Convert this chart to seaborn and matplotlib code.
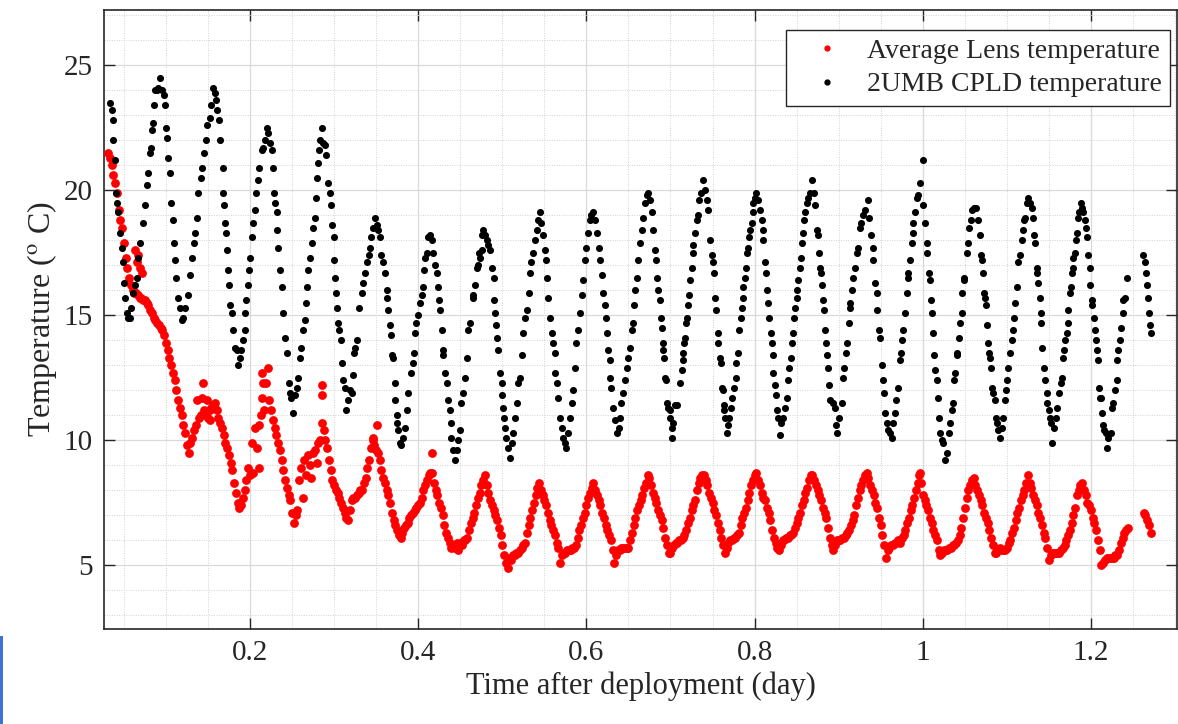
import matplotlib.pyplot as plt
from matplotlib.lines import Line2D
from matplotlib.patches import Rectangle
from matplotlib.ticker import MultipleLocator, FixedLocator
import pandas as pd
import seaborn as sns

sns.set_theme(style="ticks")
plt.rcParams['font.family'] = ['Liberation Serif', 'DejaVu Serif']
plt.rcParams['mathtext.fontset'] = 'stix'

LENS = 'Average Lens temperature'
CPLD = '2UMB CPLD temperature'

# (minutes after deployment, temperature in deg C)
lens_readings = [
    (45, 21.5), (48, 21.3), (51, 21.0), (54, 20.6), (57, 20.3), (60, 19.9), (63, 19.2), (66, 18.8), (69, 18.5), (72, 17.9),
    (75, 17.3), (78, 16.9), (81, 16.5), (84, 16.2), (87, 16.0), (90, 15.9), (93, 15.9), (96, 15.8), (99, 15.7), (102, 15.7),
    (105, 15.6), (108, 15.6), (111, 15.5), (114, 15.4), (117, 15.2), (120, 15.1), (123, 14.9), (126, 14.8), (129, 14.7), (132, 14.6),
    (135, 14.5), (138, 14.4), (141, 14.2), (144, 13.9), (147, 13.6), (150, 13.3), (153, 13.0), (156, 12.7), (159, 12.4), (162, 12.0),
    (165, 11.6), (168, 11.3), (171, 11.0), (174, 10.6), (177, 10.3), (180, 9.8), (183, 9.5), (186, 9.9), (189, 10.1), (192, 10.4),
    (195, 10.6), (198, 11.6), (201, 10.9), (204, 11.0), (207, 12.3), (210, 11.2), (213, 11.0), (216, 10.9), (219, 11.2), (222, 11.3),
    (225, 11.4), (228, 11.5), (231, 11.2), (234, 10.9), (237, 10.7), (240, 10.5), (243, 10.2), (246, 9.9), (249, 9.7), (252, 9.4),
    (255, 9.1), (258, 8.8), (261, 8.3), (264, 7.9), (267, 7.5), (270, 7.3), (273, 7.4), (276, 7.7), (279, 8.0), (282, 8.4),
    (285, 8.9), (288, 8.6), (291, 9.9), (294, 8.7), (297, 10.5), (300, 9.7), (303, 10.6), (306, 11.0), (309, 11.7), (312, 11.2),
    (315, 12.3), (318, 12.9), (321, 11.6), (324, 11.2), (327, 10.8), (330, 10.5), (333, 10.2), (336, 9.9), (339, 9.6), (342, 9.2),
    (345, 8.8), (348, 8.4), (351, 8.1), (354, 7.8), (357, 7.6), (360, 7.1), (363, 6.7), (366, 7.0), (369, 7.2), (372, 8.4),
    (375, 8.9), (378, 7.7), (381, 9.2), (384, 8.6), (387, 9.4), (390, 9.0), (393, 8.5), (396, 9.5), (399, 9.6), (402, 9.1),
    (405, 9.9), (408, 10.0), (411, 10.7), (414, 10.4), (417, 10.0), (420, 9.7), (423, 9.2), (426, 8.8), (429, 8.4), (432, 8.2),
    (435, 8.0), (438, 7.9), (441, 7.7), (444, 7.5), (447, 7.3), (450, 7.1), (453, 6.9), (456, 6.8), (459, 7.2), (462, 7.6),
    (465, 7.7), (468, 7.7), (471, 7.8), (474, 7.9), (477, 8.0), (480, 8.0), (483, 8.3), (486, 8.5), (489, 8.9), (492, 9.2),
    (495, 9.7), (498, 10.1), (501, 9.8), (504, 9.6), (507, 9.5), (510, 9.2), (513, 8.8), (516, 8.5), (519, 8.3), (522, 8.0),
    (525, 7.8), (528, 7.5), (531, 7.1), (534, 6.8), (537, 6.6), (540, 6.4), (543, 6.2), (546, 6.1), (549, 6.3), (552, 6.5),
    (555, 6.6), (558, 6.7), (561, 6.9), (564, 7.0), (567, 7.1), (570, 7.2), (573, 7.3), (576, 7.4), (579, 7.5), (582, 7.7),
    (585, 8.0), (588, 8.2), (591, 8.4), (594, 8.6), (597, 8.7), (600, 8.7), (603, 8.3), (606, 8.0), (609, 7.8), (612, 7.5),
    (615, 7.3), (618, 7.0), (621, 6.6), (624, 6.3), (627, 6.1), (630, 5.9), (633, 5.7), (636, 5.8), (639, 5.7), (642, 5.9),
    (645, 5.6), (648, 5.9), (651, 5.8), (654, 6.0), (657, 6.0), (660, 6.1), (663, 6.4), (666, 6.7), (669, 6.9), (672, 7.1),
    (675, 7.4), (678, 7.7), (681, 7.9), (684, 8.2), (687, 8.4), (690, 8.6), (693, 8.2), (696, 7.9), (699, 7.6), (702, 7.4),
    (705, 7.2), (708, 7.0), (711, 6.8), (714, 6.5), (717, 6.2), (720, 5.8), (723, 5.4), (726, 5.1), (729, 4.9), (732, 5.3),
    (735, 5.2), (738, 5.4), (741, 5.4), (744, 5.5), (747, 5.5), (750, 5.6), (753, 5.7), (756, 5.8), (759, 5.9), (762, 6.3),
    (765, 6.6), (768, 6.9), (771, 7.2), (774, 7.5), (777, 7.8), (780, 8.1), (783, 8.3), (786, 8.0), (789, 7.8), (792, 7.6),
    (795, 7.4), (798, 7.1), (801, 6.8), (804, 6.6), (807, 6.4), (810, 6.2), (813, 5.9), (816, 5.7), (819, 5.1), (822, 5.4),
    (825, 5.5), (828, 5.5), (831, 5.6), (834, 5.6), (837, 5.6), (840, 5.7), (843, 5.7), (846, 5.8), (849, 6.1), (852, 6.4),
    (855, 6.6), (858, 6.9), (861, 7.1), (864, 7.4), (867, 7.7), (870, 7.9), (873, 8.1), (876, 8.3), (879, 8.0), (882, 7.8),
    (885, 7.6), (888, 7.4), (891, 7.1), (894, 6.9), (897, 6.6), (900, 6.4), (903, 6.2), (906, 6.0), (909, 5.6), (912, 5.1),
    (915, 5.4), (918, 5.6), (921, 5.6), (924, 5.7), (927, 5.7), (930, 5.7), (933, 5.7), (936, 5.7), (939, 6.0), (942, 6.3),
    (945, 6.6), (948, 6.9), (951, 7.2), (954, 7.4), (957, 7.6), (960, 7.8), (963, 8.1), (966, 8.3), (969, 8.6), (972, 8.5),
    (975, 8.2), (978, 7.9), (981, 7.7), (984, 7.5), (987, 7.2), (990, 7.0), (993, 6.8), (996, 6.5), (999, 6.1), (1002, 5.8),
    (1005, 5.5), (1008, 5.5), (1011, 5.7), (1014, 5.8), (1017, 5.9), (1020, 5.9), (1023, 6.0), (1026, 6.0), (1029, 6.1), (1032, 6.2),
    (1035, 6.4), (1038, 6.7), (1041, 6.9), (1044, 7.2), (1047, 7.4), (1050, 7.6), (1053, 8.0), (1056, 8.3), (1059, 8.5), (1062, 8.6),
    (1065, 8.6), (1068, 8.4), (1071, 8.2), (1074, 7.9), (1077, 7.7), (1080, 7.5), (1083, 7.2), (1086, 7.0), (1089, 6.7), (1092, 6.4),
    (1095, 6.1), (1098, 5.8), (1101, 5.5), (1104, 5.7), (1107, 5.9), (1110, 6.0), (1113, 6.0), (1116, 6.1), (1119, 6.1), (1122, 6.2),
    (1125, 6.3), (1128, 6.6), (1131, 6.9), (1134, 7.1), (1137, 7.3), (1140, 7.6), (1143, 7.9), (1146, 8.2), (1149, 8.4), (1152, 8.6),
    (1155, 8.7), (1158, 8.4), (1161, 8.2), (1164, 7.9), (1167, 7.7), (1170, 7.6), (1173, 7.3), (1176, 7.1), (1179, 6.8), (1182, 6.4),
    (1185, 6.1), (1188, 5.9), (1191, 5.7), (1194, 5.6), (1197, 5.8), (1200, 6.0), (1203, 6.0), (1206, 6.1), (1209, 6.1), (1212, 6.2),
    (1215, 6.2), (1218, 6.3), (1221, 6.5), (1224, 6.7), (1227, 6.9), (1230, 7.1), (1233, 7.4), (1236, 7.6), (1239, 7.9), (1242, 8.1),
    (1245, 8.4), (1248, 8.6), (1251, 8.6), (1254, 8.4), (1257, 8.2), (1260, 8.0), (1263, 7.8), (1266, 7.6), (1269, 7.3), (1272, 7.1),
    (1275, 6.9), (1278, 6.5), (1281, 6.1), (1284, 5.8), (1287, 5.6), (1290, 5.8), (1293, 6.0), (1296, 6.0), (1299, 6.0), (1302, 6.1),
    (1305, 6.1), (1308, 6.2), (1311, 6.3), (1314, 6.4), (1317, 6.6), (1320, 6.8), (1323, 7.0), (1326, 7.4), (1329, 7.7), (1332, 8.0),
    (1335, 8.2), (1338, 8.4), (1341, 8.6), (1344, 8.7), (1347, 8.5), (1350, 8.2), (1353, 8.0), (1356, 7.8), (1359, 7.5), (1362, 7.3),
    (1365, 6.9), (1368, 6.6), (1371, 6.2), (1374, 5.8), (1377, 5.3), (1380, 5.6), (1383, 5.7), (1386, 5.8), (1389, 5.8), (1392, 5.9),
    (1395, 5.9), (1398, 6.0), (1401, 5.9), (1404, 6.1), (1407, 6.2), (1410, 6.4), (1413, 6.7), (1416, 6.9), (1419, 7.2), (1422, 7.4),
    (1425, 7.7), (1428, 8.0), (1431, 8.3), (1434, 8.6), (1437, 8.3), (1440, 7.8), (1443, 7.6), (1446, 7.4), (1449, 7.2), (1452, 6.9),
    (1455, 6.7), (1458, 6.4), (1461, 6.2), (1464, 6.0), (1467, 5.6), (1470, 5.4), (1473, 5.5), (1476, 5.6), (1479, 5.6), (1482, 5.6),
    (1485, 5.7), (1488, 5.7), (1491, 5.8), (1494, 5.8), (1497, 5.9), (1500, 6.0), (1503, 6.2), (1506, 6.5), (1509, 6.9), (1512, 7.3),
    (1515, 7.7), (1518, 8.0), (1521, 8.2), (1524, 8.4), (1527, 8.5), (1530, 8.2), (1533, 8.0), (1536, 7.8), (1539, 7.6), (1542, 7.4),
    (1545, 7.1), (1548, 6.9), (1551, 6.7), (1554, 6.4), (1557, 6.1), (1560, 5.8), (1563, 5.5), (1566, 5.5), (1569, 5.6), (1572, 5.7),
    (1575, 5.6), (1578, 5.6), (1581, 5.6), (1584, 5.7), (1587, 5.9), (1590, 6.0), (1593, 6.3), (1596, 6.5), (1599, 6.8), (1602, 7.1),
    (1605, 7.3), (1608, 7.6), (1611, 7.8), (1614, 8.0), (1617, 8.3), (1620, 8.6), (1623, 8.3), (1626, 8.1), (1629, 7.8), (1632, 7.6),
    (1635, 7.4), (1638, 7.1), (1641, 6.9), (1644, 6.6), (1647, 6.3), (1650, 6.1), (1653, 5.7), (1656, 5.2), (1659, 5.4), (1662, 5.5),
    (1665, 5.5), (1668, 5.5), (1671, 5.5), (1674, 5.5), (1677, 5.6), (1680, 5.7), (1683, 5.8), (1686, 6.0), (1689, 6.2), (1692, 6.4),
    (1695, 6.7), (1698, 7.0), (1701, 7.3), (1704, 7.8), (1707, 8.0), (1710, 8.2), (1713, 8.3), (1716, 8.0), (1719, 7.8), (1722, 7.5),
    (1725, 7.4), (1728, 7.2), (1731, 6.9), (1734, 6.7), (1737, 6.4), (1740, 6.0), (1743, 5.6), (1746, 5.0), (1749, 5.1), (1752, 5.2),
    (1755, 5.3), (1758, 5.3), (1761, 5.3), (1764, 5.3), (1767, 5.3), (1770, 5.4), (1773, 5.4), (1776, 5.6), (1779, 5.9), (1782, 6.1),
    (1785, 6.3), (1788, 6.4), (1791, 6.5), (1818, 7.1), (1821, 7.0), (1824, 6.8), (1827, 6.6), (1830, 6.3),
]

# stray lens dots above the main trace
lens_scatter = [
    (91, 17.6), (94, 17.1), (97, 17.4), (100, 16.9), (103, 16.7), (205, 11.7), (214, 11.6), (220, 10.8),
    (303, 8.9), (309, 12.7), (310, 12.3), (411, 12.2), (412, 11.8), (498, 10.0), (505, 10.6), (599, 9.5), (1436, 8.7),
]

cpld_readings = [
    (48, 23.5), (51, 23.2), (53, 22.8), (54, 22.0), (57, 21.2), (59, 19.9), (61, 19.5), (62, 19.1), (65, 18.3), (68, 17.7),
    (71, 17.1), (72, 16.3), (74, 15.7), (77, 15.1), (79, 14.9), (83, 14.9), (85, 15.3), (88, 15.9), (91, 16.2), (94, 16.5),
    (97, 17.3), (100, 17.9), (104, 18.7), (108, 19.4), (111, 20.2), (114, 20.7), (117, 21.5), (119, 21.7), (121, 22.4), (122, 22.7),
    (124, 23.4), (125, 24.0), (128, 24.0), (131, 24.1), (134, 24.5), (137, 24.0), (140, 23.8), (142, 23.4), (144, 22.5), (146, 22.1),
    (148, 21.3), (151, 20.7), (153, 19.5), (156, 18.8), (158, 17.9), (160, 17.2), (162, 16.5), (165, 15.7), (168, 15.3), (171, 14.8),
    (174, 14.9), (177, 15.3), (181, 15.8), (185, 16.6), (188, 17.3), (192, 17.9), (194, 18.3), (197, 18.9), (199, 19.9), (204, 20.5),
    (205, 20.9), (209, 21.5), (213, 22.0), (215, 22.6), (219, 22.9), (221, 23.4), (224, 24.1), (228, 23.9), (230, 23.6), (232, 23.2),
    (235, 22.8), (237, 22.0), (241, 20.9), (242, 19.9), (244, 19.4), (245, 18.7), (247, 18.3), (248, 17.6), (251, 16.8), (252, 16.2),
    (254, 15.4), (257, 15.1), (259, 14.4), (262, 13.7), (265, 13.6), (268, 13.0), (271, 13.3), (273, 13.6), (276, 14.0), (279, 14.4),
    (280, 15.1), (282, 15.6), (285, 16.2), (286, 16.8), (288, 17.3), (291, 18.1), (294, 18.7), (297, 19.2), (299, 19.9), (302, 20.4),
    (304, 20.9), (308, 21.6), (311, 21.7), (314, 22.0), (317, 22.5), (319, 22.3), (322, 21.9), (325, 21.6), (328, 20.9), (329, 19.9),
    (331, 19.5), (334, 19.1), (335, 18.4), (336, 17.7), (339, 16.8), (342, 16.1), (345, 15.1), (348, 14.1), (351, 13.5), (354, 12.3),
    (356, 11.9), (359, 11.7), (362, 11.1), (365, 11.8), (368, 12.1), (371, 12.5), (374, 13.3), (376, 13.7), (379, 14.4), (382, 14.8),
    (384, 15.5), (386, 16.1), (388, 16.8), (391, 17.3), (394, 17.9), (396, 18.5), (399, 18.9), (401, 19.7), (402, 20.5), (405, 21.1),
    (407, 21.6), (408, 22.0), (411, 22.5), (413, 21.9), (416, 21.8), (419, 21.4), (422, 20.3), (425, 19.9), (426, 19.4), (428, 18.6),
    (431, 18.1), (432, 17.2), (434, 16.5), (435, 15.9), (437, 15.3), (439, 14.7), (441, 14.4), (443, 14.0), (445, 13.1), (448, 12.4),
    (451, 12.1), (453, 11.2), (456, 11.6), (459, 12.0), (462, 11.9), (465, 12.6), (466, 13.5), (468, 13.7), (472, 14.0), (475, 15.3),
    (479, 15.9), (482, 16.3), (485, 16.7), (489, 17.1), (491, 17.4), (493, 17.7), (496, 18.1), (499, 18.5), (502, 18.9), (505, 18.6),
    (508, 18.4), (511, 18.1), (513, 17.4), (516, 17.1), (519, 16.7), (522, 16.0), (523, 15.7), (524, 15.2), (528, 14.6), (529, 14.2),
    (531, 13.4), (533, 13.3), (536, 12.3), (537, 11.6), (539, 11.0), (540, 10.7), (542, 10.4), (545, 9.9), (547, 9.8), (550, 10.1),
    (553, 10.5), (556, 11.2), (559, 11.9), (563, 12.7), (567, 13.1), (568, 13.5), (571, 14.3), (573, 14.7), (576, 15.0), (579, 15.5),
    (582, 15.8), (585, 16.1), (586, 16.8), (588, 17.3), (591, 17.5), (593, 18.1), (596, 18.2), (599, 18.0), (602, 17.5), (605, 17.0),
    (608, 16.7), (610, 16.1), (612, 15.6), (614, 15.2), (616, 14.4), (618, 13.6), (619, 13.4), (622, 12.7), (625, 12.3), (627, 11.6),
    (630, 11.2), (632, 10.7), (633, 10.1), (636, 9.6), (639, 9.2), (642, 9.6), (645, 10.0), (648, 10.4), (650, 11.5), (653, 11.9),
    (656, 12.5), (659, 13.3), (662, 14.4), (665, 14.7), (669, 15.8), (670, 15.7), (673, 16.2), (676, 16.9), (679, 17.0), (680, 17.5),
    (682, 17.3), (685, 17.6), (686, 18.2), (687, 18.4), (690, 18.2), (693, 18.0), (696, 17.8), (699, 17.6), (702, 16.9), (705, 16.5),
    (706, 15.6), (707, 15.1), (710, 14.6), (711, 14.1), (713, 13.6), (716, 12.7), (719, 12.3), (720, 11.8), (722, 11.3), (723, 10.9),
    (725, 10.5), (727, 10.1), (730, 9.7), (733, 9.3), (736, 9.9), (739, 10.3), (742, 10.9), (745, 11.5), (747, 12.3), (750, 12.5),
    (753, 13.4), (756, 14.3), (759, 14.9), (762, 15.2), (765, 15.9), (767, 16.7), (770, 17.1), (773, 17.5), (776, 18.0), (779, 18.4),
    (782, 18.8), (785, 19.1), (787, 18.7), (790, 18.2), (793, 17.6), (795, 17.2), (796, 16.5), (799, 15.7), (802, 14.9), (805, 14.3),
    (807, 13.9), (810, 13.5), (811, 12.7), (813, 12.3), (816, 11.7), (819, 10.9), (822, 10.5), (824, 10.1), (827, 9.9), (829, 9.7),
    (833, 10.3), (836, 10.9), (839, 11.5), (841, 12.0), (844, 12.9), (847, 13.9), (850, 14.4), (853, 15.1), (856, 15.8), (859, 16.4),
    (862, 17.2), (864, 17.7), (867, 18.3), (870, 18.8), (872, 19.0), (875, 19.1), (879, 18.8), (882, 18.3), (885, 17.7), (887, 17.2),
    (890, 16.6), (893, 15.9), (896, 15.4), (898, 14.9), (899, 14.3), (901, 13.6), (904, 13.2), (905, 12.5), (907, 12.1), (910, 11.3),
    (913, 10.8), (916, 10.3), (919, 10.5), (922, 10.9), (924, 11.5), (927, 11.9), (930, 12.4), (933, 12.9), (936, 13.3), (939, 13.7),
    (942, 14.4), (944, 14.7), (945, 15.4), (947, 16.0), (950, 16.5), (953, 17.2), (956, 17.9), (959, 18.4), (961, 18.9), (964, 19.5),
    (967, 19.8), (970, 19.9), (973, 19.6), (976, 19.1), (978, 18.4), (981, 17.6), (984, 17.2), (985, 16.5), (987, 16.0), (990, 15.6),
    (992, 14.9), (993, 14.5), (995, 13.9), (996, 13.6), (997, 13.3), (999, 12.5), (1000, 12.4), (1002, 11.5), (1004, 11.3), (1007, 11.2),
    (1008, 10.9), (1010, 10.5), (1011, 10.1), (1012, 10.7), (1015, 11.4), (1019, 11.4), (1024, 12.3), (1027, 12.8), (1029, 13.2), (1030, 13.5),
    (1031, 13.9), (1033, 14.1), (1035, 14.7), (1036, 14.9), (1038, 15.4), (1040, 15.8), (1042, 16.4), (1044, 16.9), (1046, 17.5), (1047, 17.8),
    (1050, 18.3), (1053, 18.8), (1055, 19.0), (1057, 19.6), (1060, 19.9), (1064, 20.4), (1067, 20.0), (1070, 19.6), (1073, 19.2), (1076, 18.0),
    (1079, 17.4), (1081, 17.1), (1082, 16.7), (1084, 15.7), (1086, 15.2), (1089, 14.3), (1090, 13.9), (1093, 13.3), (1094, 13.1), (1097, 12.1),
    (1098, 12.0), (1099, 11.4), (1100, 11.2), (1102, 10.9), (1104, 10.3), (1106, 10.6), (1109, 10.9), (1112, 11.3), (1114, 11.7), (1117, 12.1),
    (1120, 12.5), (1121, 13.1), (1124, 13.5), (1126, 14.4), (1129, 14.9), (1131, 15.3), (1132, 15.7), (1133, 16.1), (1136, 16.5), (1138, 16.9),
    (1139, 17.5), (1141, 17.7), (1143, 18.1), (1145, 18.4), (1147, 18.7), (1149, 19.1), (1150, 19.5), (1153, 19.7), (1155, 19.9), (1158, 19.6),
    (1161, 19.2), (1165, 18.8), (1166, 18.4), (1167, 18.0), (1170, 17.1), (1172, 16.7), (1173, 16.0), (1175, 15.5), (1177, 14.9), (1180, 14.3),
    (1182, 13.9), (1183, 13.4), (1184, 12.7), (1187, 12.2), (1189, 11.8), (1190, 11.2), (1192, 10.9), (1195, 10.2), (1198, 10.7), (1201, 10.9),
    (1204, 11.3), (1207, 11.7), (1209, 12.4), (1211, 12.9), (1214, 13.3), (1216, 13.9), (1218, 14.3), (1220, 14.9), (1221, 15.3), (1224, 15.7),
    (1225, 16.0), (1227, 16.4), (1230, 16.9), (1231, 17.3), (1233, 17.9), (1235, 18.3), (1237, 18.8), (1239, 19.1), (1242, 19.5), (1244, 19.7),
    (1247, 19.9), (1250, 20.4), (1253, 19.9), (1256, 19.4), (1259, 18.4), (1260, 18.2), (1262, 17.5), (1264, 16.9), (1265, 16.7), (1267, 16.2),
    (1269, 15.6), (1271, 15.2), (1273, 14.4), (1274, 13.9), (1276, 13.4), (1278, 12.9), (1280, 12.2), (1282, 11.6), (1286, 11.5), (1289, 11.3),
    (1292, 10.6), (1293, 10.3), (1297, 10.9), (1301, 11.5), (1303, 12.5), (1305, 12.9), (1309, 13.5), (1310, 13.9), (1313, 14.7), (1315, 15.3),
    (1316, 15.5), (1318, 16.0), (1321, 16.5), (1324, 16.9), (1327, 17.5), (1329, 17.7), (1332, 18.5), (1335, 18.7), (1337, 19.0), (1341, 19.2),
    (1346, 19.6), (1348, 18.9), (1351, 18.2), (1354, 17.7), (1355, 17.2), (1358, 16.3), (1361, 15.9), (1362, 15.2), (1365, 14.4), (1367, 14.1),
    (1370, 13.0), (1372, 12.4), (1374, 11.9), (1375, 11.1), (1379, 10.7), (1381, 10.4), (1384, 10.3), (1387, 10.1), (1389, 10.7), (1392, 11.1),
    (1395, 11.6), (1397, 12.1), (1401, 13.2), (1402, 13.5), (1404, 14.0), (1406, 14.4), (1409, 15.1), (1413, 15.9), (1414, 16.5), (1415, 16.7),
    (1418, 17.2), (1421, 17.9), (1423, 18.3), (1424, 18.7), (1426, 19.1), (1430, 19.7), (1432, 19.8), (1436, 20.3), (1440, 21.2), (1441, 19.4),
    (1444, 18.7), (1447, 17.9), (1448, 17.5), (1451, 16.7), (1452, 16.4), (1454, 15.6), (1456, 15.1), (1457, 14.3), (1459, 13.4), (1461, 12.8),
    (1464, 12.4), (1466, 11.7), (1468, 10.9), (1469, 10.3), (1473, 10.0), (1475, 9.9), (1478, 9.2), (1481, 9.5), (1485, 10.3), (1487, 10.7),
    (1490, 11.2), (1491, 11.5), (1493, 12.4), (1496, 12.7), (1498, 13.4), (1499, 13.5), (1502, 14.1), (1504, 14.7), (1507, 15.1), (1508, 15.9),
    (1510, 16.4), (1511, 16.5), (1515, 17.5), (1517, 17.9), (1519, 18.5), (1522, 18.8), (1524, 19.2), (1528, 19.3), (1531, 19.3), (1534, 18.8),
    (1538, 18.2), (1539, 17.4), (1541, 17.2), (1543, 16.7), (1545, 15.9), (1546, 15.7), (1548, 15.4), (1550, 14.6), (1552, 13.9), (1554, 13.5),
    (1555, 13.3), (1557, 12.9), (1558, 12.1), (1560, 11.9), (1564, 11.6), (1565, 10.9), (1567, 10.7), (1569, 10.4), (1572, 10.1), (1575, 10.5),
    (1577, 10.9), (1581, 11.6), (1582, 12.0), (1584, 12.4), (1586, 12.9), (1589, 13.5), (1593, 14.0), (1594, 14.4), (1596, 14.9), (1598, 15.5),
    (1601, 16.1), (1603, 17.1), (1607, 17.4), (1610, 18.0), (1612, 18.4), (1613, 18.8), (1615, 18.9), (1618, 19.5), (1620, 19.7), (1623, 19.5),
    (1627, 19.3), (1628, 18.9), (1630, 18.2), (1633, 17.9), (1635, 16.9), (1636, 16.7), (1637, 16.3), (1640, 15.7), (1642, 15.1), (1643, 14.7),
    (1645, 13.7), (1647, 12.9), (1649, 12.4), (1652, 11.9), (1653, 11.5), (1656, 11.2), (1657, 10.9), (1660, 10.7), (1661, 9.9), (1665, 10.5),
    (1668, 10.9), (1670, 11.3), (1674, 11.9), (1677, 12.3), (1679, 12.5), (1680, 13.3), (1681, 13.6), (1683, 14.0), (1687, 14.3), (1688, 14.7),
    (1689, 15.2), (1692, 15.9), (1693, 16.1), (1695, 16.7), (1697, 16.9), (1698, 17.3), (1701, 17.5), (1703, 18.0), (1704, 18.3), (1706, 18.9),
    (1708, 19.1), (1711, 19.5), (1713, 19.3), (1715, 19.1), (1717, 18.8), (1720, 18.5), (1722, 18.1), (1723, 17.4), (1726, 16.9), (1727, 16.2),
    (1729, 15.6), (1730, 15.4), (1733, 14.9), (1735, 14.4), (1737, 14.0), (1738, 13.6), (1740, 13.2), (1742, 12.1), (1743, 11.7), (1745, 11.7),
    (1747, 11.1), (1748, 10.6), (1751, 10.4), (1754, 10.3), (1755, 9.7), (1758, 10.1), (1763, 10.3), (1764, 11.3), (1766, 11.5), (1770, 12.0),
    (1772, 12.4), (1773, 13.2), (1775, 13.6), (1777, 14.0), (1780, 14.5), (1782, 15.1), (1783, 15.6), (1786, 15.7), (1790, 16.5),
    (1817, 17.4), (1820, 17.1), (1822, 16.7), (1824, 16.2), (1826, 15.7), (1827, 15.1), (1829, 14.6), (1831, 14.3),
]

x_ticks = [0.2, 0.4, 0.6, 0.8, 1.0, 1.2]
x_tick_labels = ['0.2', '0.4', '0.6', '0.8', '1', '1.2']
y_ticks = [5, 10, 15, 20, 25]

lens = pd.DataFrame(lens_readings + lens_scatter, columns=['minute', 'temp'])
lens['day'] = lens['minute'] / 1440
cpld = pd.DataFrame(cpld_readings, columns=['minute', 'temp'])
cpld['day'] = cpld['minute'] / 1440

fig = plt.figure(figsize=(11.78, 7.24), dpi=100)
ax = fig.add_axes([104 / 1178, 95 / 724, 1073 / 1178, 619 / 724])

sns.scatterplot(data=lens, x='day', y='temp', color='#ff0000', s=40, linewidth=0, ax=ax, zorder=3)
sns.scatterplot(data=cpld, x='day', y='temp', color='#000000', s=26, linewidth=0, ax=ax, zorder=4)

ax.set_xlim(0.0264, 1.3023)
ax.set_ylim(2.44, 27.2)
ax.xaxis.set_major_locator(FixedLocator(x_ticks))
ax.set_xticklabels(x_tick_labels)
ax.yaxis.set_major_locator(FixedLocator(y_ticks))
ax.xaxis.set_minor_locator(MultipleLocator(0.05))
ax.yaxis.set_minor_locator(MultipleLocator(1))

ax.set_axisbelow(True)
ax.grid(which='major', color='#d9d9d9', linewidth=0.9, linestyle='-')
ax.grid(which='minor', color='#d2d2d2', linewidth=0.7, linestyle=(0, (1, 1.5)))

ax.tick_params(which='major', direction='in', length=8, width=1, top=True, right=True,
               labelsize=21, colors='#262626', pad=8)
ax.tick_params(which='minor', length=0)
for side in ax.spines.values():
    side.set_visible(True)
    side.set_color('#262626')
    side.set_linewidth(1.2)

ax.set_xlabel('Time after deployment (day)', fontsize=22, color='#262626', labelpad=4)
ax.set_ylabel('Temperature ($^{\\rm o}$ C)', fontsize=23, color='#262626', labelpad=3)

handles = [
    Line2D([], [], marker='o', linestyle='', color='#ff0000', markersize=3.5),
    Line2D([], [], marker='o', linestyle='', color='#000000', markersize=3.5),
]
leg = ax.legend(handles, [LENS, CPLD], loc='upper right', bbox_to_anchor=(0.9935, 0.968),
                fontsize=20, frameon=True, fancybox=False, framealpha=1, edgecolor='#262626',
                borderpad=0.3, handlelength=2.3, handletextpad=0.3, labelspacing=0.3, borderaxespad=0)
leg.get_frame().set_linewidth(1.0)

fig.add_artist(Rectangle((0, 0), 3 / 1178, 88 / 724, transform=fig.transFigure, color='#3f72d6', lw=0))

fig.savefig('out.png', dpi=100)
